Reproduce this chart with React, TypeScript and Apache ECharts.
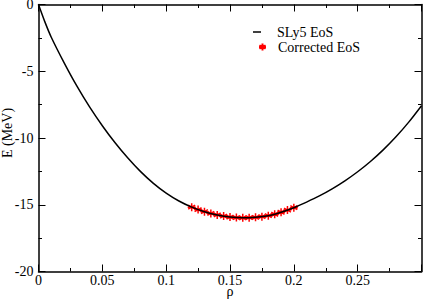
import React, { useEffect, useRef } from "react";
import * as echarts from "echarts";

const curveRho = [0, 0.005, 0.01, 0.02, 0.03, 0.04, 0.05, 0.06, 0.07, 0.08, 0.09, 0.1, 0.11, 0.12, 0.13, 0.14, 0.15, 0.16, 0.17, 0.18, 0.19, 0.2, 0.21, 0.22, 0.23, 0.24, 0.25, 0.26, 0.27, 0.28, 0.29, 0.3];
const curveE = [0, -1.3, -2.45, -4.35, -6.1, -7.67, -9.08, -10.36, -11.5, -12.52, -13.4, -14.13, -14.72, -15.18, -15.52, -15.76, -15.92, -15.98, -15.94, -15.82, -15.56, -15.22, -14.8, -14.34, -13.81, -13.21, -12.53, -11.76, -10.89, -9.91, -8.81, -7.58];

const starRho = [0.12, 0.125, 0.13, 0.135, 0.14, 0.145, 0.15, 0.155, 0.16, 0.165, 0.17, 0.175, 0.18, 0.185, 0.19, 0.195, 0.2];
const starE = [-15.18, -15.36, -15.52, -15.65, -15.76, -15.85, -15.92, -15.96, -15.98, -15.97, -15.94, -15.89, -15.82, -15.71, -15.56, -15.4, -15.22];

const FONT = "Liberation Serif";
const STAR = "path://M0,-1L0,1M-0.87,-0.5L0.87,0.5M-0.87,0.5L0.87,-0.5M-1,0L1,0";

export default function App() {
  const ref = useRef<HTMLDivElement>(null);
  useEffect(() => {
    document.body.style.margin = "0";
    const chart = echarts.init(ref.current!, null, { renderer: "svg" });
    const axisLine = { show: true, onZero: false, lineStyle: { color: "#000", width: 1.5 } };
    const tick = { show: true, inside: true, length: 7, lineStyle: { color: "#000", width: 1 } };
    const minor = { show: true, splitNumber: 2, length: 3.5, lineStyle: { color: "#000", width: 1 } };
    const xBase = { type: "value", min: 0, max: 0.3, interval: 0.05, axisLine, axisTick: tick, minorTick: minor, splitLine: { show: false } };
    const yBase = { type: "value", min: -20, max: 0, interval: 5, axisLine, axisTick: tick, minorTick: minor, splitLine: { show: false } };
    chart.setOption({
      animation: false,
      backgroundColor: "#fff",
      textStyle: { fontFamily: FONT },
      grid: { left: 38.5, right: 1.5, top: 4.5, bottom: 29.5, outerBoundsMode: "none" },
      xAxis: [
        {
          ...xBase,
          position: "bottom",
          name: "ρ",
          nameLocation: "middle",
          nameMoveOverlap: false,
          nameGap: 14,
          nameTextStyle: { fontFamily: FONT, fontSize: 14, lineHeight: 12, color: "#000", verticalAlign: "top" },
          axisLabel: {
            fontFamily: FONT, fontSize: 14, lineHeight: 11, color: "#000", margin: 3,
            formatter: (v: number) => (v > 0.29 ? "" : String(+v.toFixed(3))),
          },
        },
        { ...xBase, position: "top", axisLabel: { show: false } },
      ],
      yAxis: [
        {
          ...yBase,
          position: "left",
          name: "E (MeV)",
          nameLocation: "middle",
          nameMoveOverlap: false,
          nameGap: 24,
          nameTextStyle: { fontFamily: FONT, fontSize: 14, color: "#000", padding: [0, 0, 0, 10] },
          axisLabel: { fontFamily: FONT, fontSize: 14, lineHeight: 9, color: "#000", margin: 5 },
        },
        { ...yBase, position: "right", axisLabel: { show: false } },
      ],
      legend: [
        {
          data: [{ name: "SLy5 EoS", icon: "rect" }],
          left: 253, top: 25, padding: 0,
          itemWidth: 8, itemHeight: 1.5,
          textStyle: { fontFamily: FONT, fontSize: 14, color: "#000", padding: [0, 0, 0, 11] },
        },
        {
          data: [{ name: "Corrected EoS", icon: STAR }],
          left: 258, top: 40, padding: 0,
          itemWidth: 7, itemHeight: 7,
          textStyle: { fontFamily: FONT, fontSize: 14, color: "#000", padding: [0, 0, 0, 7] },
        },
      ],
      series: [
        {
          name: "SLy5 EoS",
          type: "line",
          smooth: 0.3,
          showSymbol: false,
          symbol: "none",
          data: curveRho.map((r, i) => [r, curveE[i]]),
          lineStyle: { color: "#000", width: 1.5 },
          itemStyle: { color: "#000" },
        },
        {
          name: "Corrected EoS",
          type: "scatter",
          symbol: STAR,
          symbolSize: 8,
          data: starRho.map((r, i) => [r, starE[i]]),
          itemStyle: { color: "#ff0000", borderColor: "#ff0000", borderWidth: 1.5, opacity: 1 },
        },
      ],
    });
    return () => chart.dispose();
  }, []);
  return <div ref={ref} style={{ width: 423, height: 301 }} />;
}
